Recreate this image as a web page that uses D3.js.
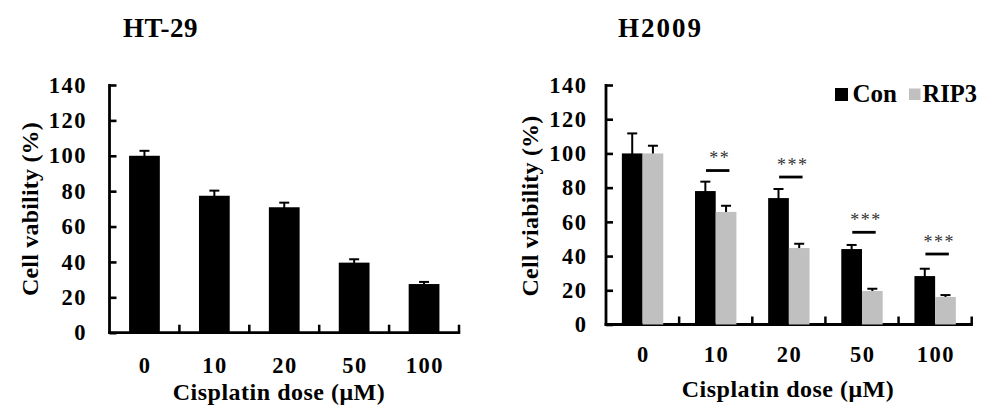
<!DOCTYPE html>
<html><head><meta charset="utf-8">
<script src="https://cdn.jsdelivr.net/npm/d3@7"></script>
<style>
html,body{margin:0;padding:0;background:#fff;}
svg{display:block;}
text{font-family:"Liberation Serif","Times New Roman",serif;font-weight:bold;fill:#000;}
</style></head>
<body>
<script>
// ---- data ----
const doses = ["0", "10", "20", "50", "100"];
const yTicks = [0, 20, 40, 60, 80, 100, 120, 140];
// HT-29
const htValues = [100, 77.4, 70.9, 39.6, 27.5];
const htErrors = [2.8, 2.9, 2.6, 1.9, 1.2];
// H2009
const seriesNames = ["Con", "RIP3"];
const conValues = [100, 78, 73.9, 44.1, 28.3];
const conErrors = [11.7, 5.5, 5.3, 2.4, 4.3];
const ripValues = [100, 65.8, 44.7, 19.6, 16.1];
const ripErrors = [4.5, 3.6, 2.5, 1.3, 1.1];
const sigLabels = ["", "**", "***", "***", "***"];
const sigLevels = [null, 90, 86.2, 53.9, 41.2];

const W = 982, H = 416;
const svg = d3.select("body").append("svg").attr("width", W).attr("height", H);

function panel(cfg) {
  const g = svg.append("g");
  const x = d3.scaleBand().domain(doses).range([cfg.x0, cfg.x1]).paddingInner(0).paddingOuter(0);
  const y = d3.scaleLinear().domain([0, 140]).range([cfg.yBottom, cfg.yTop]);

  // y axis
  const ya = g.append("g").attr("transform", `translate(${cfg.x0},0)`)
    .call(d3.axisLeft(y).tickValues(yTicks).tickSizeInner(-7).tickSizeOuter(0).tickPadding(cfg.yPad).tickFormat(d3.format("d")));
  ya.select(".domain").remove();
  ya.selectAll(".tick line").attr("stroke", "#000").attr("stroke-width", 2.6);
  ya.selectAll("text").style("font-size", "22.5px").style("letter-spacing", "1.5px").attr("fill", "#000");
  g.append("line").attr("x1", cfg.x0).attr("x2", cfg.x0).attr("y1", y(140) - 1).attr("y2", y(0) + 1.3)
    .attr("stroke", "#000").attr("stroke-width", 2.8);

  // x axis
  const xa = g.append("g").attr("transform", `translate(0,${cfg.yBottom})`)
    .call(d3.axisBottom(x).tickSize(0).tickPadding(cfg.xPad));
  xa.select(".domain").remove();
  xa.selectAll("text").style("font-size", "22.5px").style("letter-spacing", "1.5px").attr("dx", "0.75").attr("fill", "#000");
  g.append("line").attr("x1", cfg.x0 - 1.4).attr("x2", cfg.x1 + 1.2).attr("y1", y(0)).attr("y2", y(0))
    .attr("stroke", "#000").attr("stroke-width", 2.8);
  g.selectAll(".bt").data(doses).enter().append("line")
    .attr("x1", d => x(d) + x.bandwidth()).attr("x2", d => x(d) + x.bandwidth())
    .attr("y1", y(0)).attr("y2", y(0) - 8).attr("stroke", "#000").attr("stroke-width", 2.5);

  // title
  g.append("text").attr("x", cfg.titleX).attr("y", 36.5).style("font-size", "27px")
    .style("letter-spacing", cfg.titleSpacing + "px").text(cfg.title);
  // y label
  g.append("text").attr("transform", `translate(${cfg.ylabX},${cfg.ylabY}) rotate(-90)`)
    .attr("text-anchor", "middle").style("font-size", "24px").style("letter-spacing", "0.2px").text(cfg.ylabel);
  // x label
  g.append("text").attr("x", cfg.xlabX).attr("y", cfg.xlabY).attr("text-anchor", "middle")
    .style("font-size", "24px").style("letter-spacing", "0.5px").text("Cisplatin dose (\u03bcM)");
  return {g, x, y};
}

function errBar(g, cx, yTop, yErr) {
  g.append("line").attr("x1", cx).attr("x2", cx).attr("y1", yTop).attr("y2", yErr)
    .attr("stroke", "#000").attr("stroke-width", 2);
  g.append("line").attr("x1", cx - 5).attr("x2", cx + 5).attr("y1", yErr).attr("y2", yErr)
    .attr("stroke", "#000").attr("stroke-width", 2);
}

// ---- HT-29 ----
{
  const {g, x, y} = panel({x0: 109.5, x1: 459, yTop: 85, yBottom: 332.7, yPad: 22.5, xPad: 24.3,
    title: "HT-29", titleX: 123, titleSpacing: 0.5, ylabel: "Cell vability (%)", ylabX: 38, ylabY: 209,
    xlabX: 279, xlabY: 399.5});
  const bw = x.bandwidth() * 0.44;
  doses.forEach((d, i) => {
    const cx = x(d) + x.bandwidth() / 2;
    errBar(g, cx, y(htValues[i]) + 1, y(htValues[i] + htErrors[i]));
    g.append("rect").attr("x", cx - bw / 2).attr("width", bw)
      .attr("y", y(htValues[i])).attr("height", y(0) - y(htValues[i])).attr("fill", "#000");
  });
}

// ---- H2009 ----
{
  const {g, x, y} = panel({x0: 606, x1: 971.7, yTop: 85, yBottom: 324.5, yPad: 18.5, xPad: 21.5,
    title: "H2009", titleX: 618, titleSpacing: 2, ylabel: "Cell viability (%)", ylabX: 537.5, ylabY: 206,
    xlabX: 788, xlabY: 397});
  const sub = d3.scaleBand().domain(seriesNames).range([0, x.bandwidth() * 0.566]);
  const colors = {Con: "#000000", RIP3: "#c0c0c0"};
  const vals = {Con: conValues, RIP3: ripValues};
  const errs = {Con: conErrors, RIP3: ripErrors};
  doses.forEach((d, i) => {
    const left = x(d) + x.bandwidth() * (1 - 0.566) / 2;
    seriesNames.forEach(s => {
      const bx = left + sub(s);
      const v = vals[s][i];
      errBar(g, bx + sub.bandwidth() / 2, y(v) + 1, y(v + errs[s][i]));
      g.append("rect").attr("x", bx).attr("width", sub.bandwidth())
        .attr("y", y(v)).attr("height", y(0) - y(v)).attr("fill", colors[s]);
    });
    if (sigLevels[i] != null) {
      const cx = x(d) + x.bandwidth() / 2 + 2;
      g.append("line").attr("x1", cx - 11.7).attr("x2", cx + 11.7)
        .attr("y1", y(sigLevels[i])).attr("y2", y(sigLevels[i])).attr("stroke", "#000").attr("stroke-width", 2.8);
      g.append("text").attr("x", cx + 2).attr("y", y(sigLevels[i]) - 6.5).attr("text-anchor", "middle")
        .style("font-size", "18px").style("font-weight", "normal").style("letter-spacing", "1.5px")
        .style("fill", "#333").text(sigLabels[i]);
    }
  });
  // legend
  const lg = g.append("g");
  lg.append("rect").attr("x", 835).attr("y", 88).attr("width", 13).attr("height", 13).attr("fill", colors.Con);
  lg.append("text").attr("x", 852.5).attr("y", 101.5).style("font-size", "25px").text(seriesNames[0]);
  lg.append("rect").attr("x", 909).attr("y", 88.5).attr("width", 11.5).attr("height", 11.5).attr("fill", colors.RIP3);
  lg.append("text").attr("x", 922.5).attr("y", 101.5).style("font-size", "24.5px").text(seriesNames[1]);
}
</script>
</body></html>
